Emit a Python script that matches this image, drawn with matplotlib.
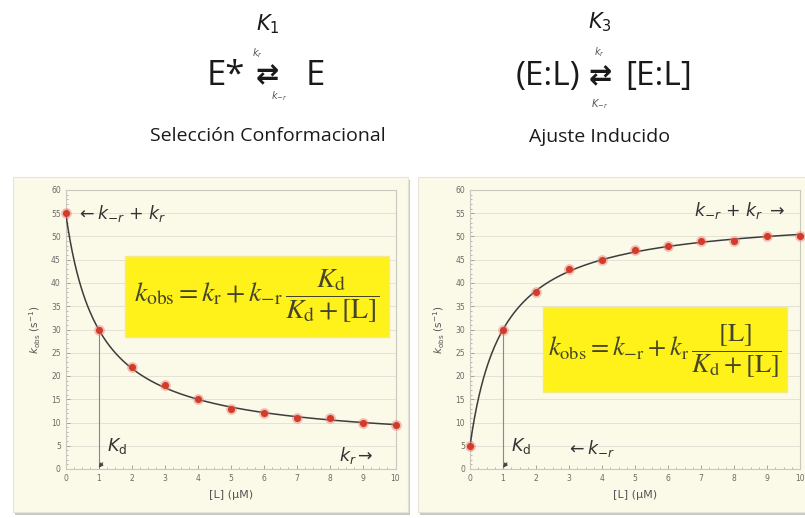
import numpy as np
import matplotlib.pyplot as plt
from matplotlib.patches import Rectangle
from matplotlib.ticker import MultipleLocator

# ligand concentrations and observed rates
ligand = [0, 1, 2, 3, 4, 5, 6, 7, 8, 9, 10]
kobs_selection = [55, 30, 22, 18, 15, 13, 12, 11, 11, 10, 9.5]
kobs_induced = [5, 30, 38, 43, 45, 47, 48, 49, 49, 50, 50]

# rate constants of the fitted models (s^-1, uM)
Kd = 1.0
kr_sel, kmr_sel = 5.0, 50.0
kr_ind, kmr_ind = 50.0, 5.0

W, H = 805, 518
PANEL = '#fbf9e8'
INK = '#333333'
YELLOW = '#fff21a'
EQ_INK = '#45452a'


def fx(px):
    return px / W


def fy(py):
    return 1 - py / H


fig = plt.figure(figsize=(W / 100, H / 100), dpi=100)
fig.patch.set_facecolor('white')

# panel cards with a faint shadow
for x0, x1 in [(13, 408), (418, 812)]:
    shadow = Rectangle((fx(x0 + 2), fy(515)), fx(x1 - x0), fy(180) - fy(515),
                       transform=fig.transFigure, facecolor='#c8c8c4',
                       edgecolor='none', zorder=-2)
    card = Rectangle((fx(x0), fy(512)), fx(x1 - x0), fy(177) - fy(512),
                     transform=fig.transFigure, facecolor=PANEL,
                     edgecolor='#e6e4d8', lw=0.8, zorder=-1)
    fig.patches.extend([shadow, card])


def setup_axes(rect):
    ax = fig.add_axes(rect)
    ax.set_facecolor(PANEL)
    ax.set_xlim(0, 10)
    ax.set_ylim(0, 60)
    ax.xaxis.set_major_locator(MultipleLocator(1))
    ax.yaxis.set_major_locator(MultipleLocator(5))
    ax.xaxis.set_minor_locator(MultipleLocator(0.25))
    ax.yaxis.set_minor_locator(MultipleLocator(1))
    ax.tick_params(which='both', direction='in', colors='#9a9a90',
                   labelsize=5.5, labelcolor='#6b6b66')
    ax.tick_params(which='major', length=3, width=0.6)
    ax.tick_params(which='minor', length=1.5, width=0.5)
    ax.grid(axis='y', color='#e4e2d6', lw=0.7)
    ax.set_axisbelow(True)
    for s in ax.spines.values():
        s.set_color('#c9c8bf')
        s.set_linewidth(0.8)
    ax.set_xlabel('[L] (μM)', fontsize=8, color='#555555', labelpad=5)
    ax.set_ylabel(r'$k_{\mathrm{obs}}$ (s$^{-1}$)', fontsize=7.5,
                  color='#555555', labelpad=6)
    return ax


def draw_points(ax, y):
    ax.scatter(ligand, y, s=60, color='#e8857a', alpha=0.5, lw=0,
               zorder=4, clip_on=False)
    ax.scatter(ligand, y, s=26, color='#d23a2c', lw=0, zorder=5,
               clip_on=False)


L = np.linspace(0, 10, 300)

# conformational selection
ax1 = setup_axes([fx(65.7), fy(469), fx(329.8), fy(190) - fy(469)])
ax1.plot(L, kr_sel + kmr_sel * Kd / (Kd + L), color='#3c3c3c', lw=1.1,
         zorder=3)
ax1.plot([Kd, Kd], [0, kobs_selection[1]], color='#8a8a84', lw=0.8, zorder=2)
draw_points(ax1, kobs_selection)
ax1.add_patch(Rectangle((1.8, 28.4), 8.0, 17.4, facecolor=YELLOW,
                        edgecolor='#f3e88a', lw=1.0, zorder=2))
ax1.text(5.8, 37.0,
         r'$k_{\mathrm{obs}} = k_{\mathrm{r}} + k_{-\mathrm{r}}\,'
         r'\dfrac{K_{\mathrm{d}}}{K_{\mathrm{d}} + [\mathrm{L}]}$',
         fontsize=20, math_fontfamily='stix', color=EQ_INK,
         ha='center', va='center', zorder=3)
ax1.text(0.3, 55, r'$\leftarrow k_{-r}$ + $k_r$', fontsize=12.5, color=INK,
         va='center', math_fontfamily='dejavusans')
ax1.text(8.3, 2.8, r'$k_r \rightarrow$', fontsize=12.5, color=INK,
         va='center', math_fontfamily='dejavusans')
ax1.annotate(r'$K_{\mathrm{d}}$', xy=(1.0, 0.3), xytext=(1.25, 5.0),
             fontsize=12.5, color=INK, math_fontfamily='dejavusans',
             va='center',
             arrowprops=dict(arrowstyle='-|>', color='#444444', lw=0.8,
                             mutation_scale=6, shrinkA=4, shrinkB=0))

# induced fit
ax2 = setup_axes([fx(470), fy(469), fx(330), fy(190) - fy(469)])
ax2.plot(L, kmr_ind + kr_ind * L / (Kd + L), color='#3c3c3c', lw=1.1,
         zorder=3)
ax2.plot([Kd, Kd], [0, kobs_induced[1]], color='#8a8a84', lw=0.8, zorder=2)
draw_points(ax2, kobs_induced)
ax2.add_patch(Rectangle((2.2, 16.6), 7.4, 18.2, facecolor=YELLOW,
                        edgecolor='#f3e88a', lw=1.0, zorder=2))
ax2.text(5.9, 25.5,
         r'$k_{\mathrm{obs}} = k_{-\mathrm{r}} + k_{\mathrm{r}}\,'
         r'\dfrac{[\mathrm{L}]}{K_{\mathrm{d}} + [\mathrm{L}]}$',
         fontsize=19, math_fontfamily='stix', color=EQ_INK,
         ha='center', va='center', zorder=3)
ax2.text(6.8, 55.5, r'$k_{-r}$ + $k_r$ $\rightarrow$', fontsize=12.5,
         color=INK, va='center', math_fontfamily='dejavusans')
ax2.text(2.9, 4.5, r'$\leftarrow k_{-r}$', fontsize=12.5, color=INK,
         va='center', math_fontfamily='dejavusans')
ax2.annotate(r'$K_{\mathrm{d}}$', xy=(1.0, 0.3), xytext=(1.25, 5.0),
             fontsize=12.5, color=INK, math_fontfamily='dejavusans',
             va='center',
             arrowprops=dict(arrowstyle='-|>', color='#444444', lw=0.8,
                             mutation_scale=6, shrinkA=4, shrinkB=0))

# reaction schemes above the panels
fam = ['Open Sans', 'DejaVu Sans']
tk = dict(color='#1a1a1a', ha='center', va='center', family=fam)

fig.text(fx(268), fy(24), r'$K_{\mathit{1}}$', fontsize=15,
         math_fontfamily='dejavusans', **tk)
fig.text(fx(226), fy(76), 'E*', fontsize=25, **tk)
fig.text(fx(267), fy(76), '⇄', fontsize=20, fontweight='bold', **tk)
fig.text(fx(315), fy(76), 'E', fontsize=25, **tk)
fig.text(fx(257), fy(53), r'$k_r$', fontsize=7, color='#555555',
         ha='center', va='center', math_fontfamily='dejavusans')
fig.text(fx(279), fy(96), r'$k_{-r}$', fontsize=7, color='#555555',
         ha='center', va='center', math_fontfamily='dejavusans')
fig.text(fx(268), fy(136), 'Selección Conformacional', fontsize=14, **tk)

fig.text(fx(600), fy(22), r'$K_{\mathit{3}}$', fontsize=15,
         math_fontfamily='dejavusans', **tk)
fig.text(fx(548), fy(77), '(E:L)', fontsize=24, **tk)
fig.text(fx(600), fy(77), '⇄', fontsize=20, fontweight='bold', **tk)
fig.text(fx(659), fy(77), '[E:L]', fontsize=24, **tk)
fig.text(fx(599), fy(52), r'$k_r$', fontsize=7, color='#555555',
         ha='center', va='center', math_fontfamily='dejavusans')
fig.text(fx(600), fy(104), r'$K_{-r}$', fontsize=7, color='#555555',
         ha='center', va='center', math_fontfamily='dejavusans')
fig.text(fx(600), fy(137), 'Ajuste Inducido', fontsize=14, **tk)

fig.savefig('out.png', dpi=100)
